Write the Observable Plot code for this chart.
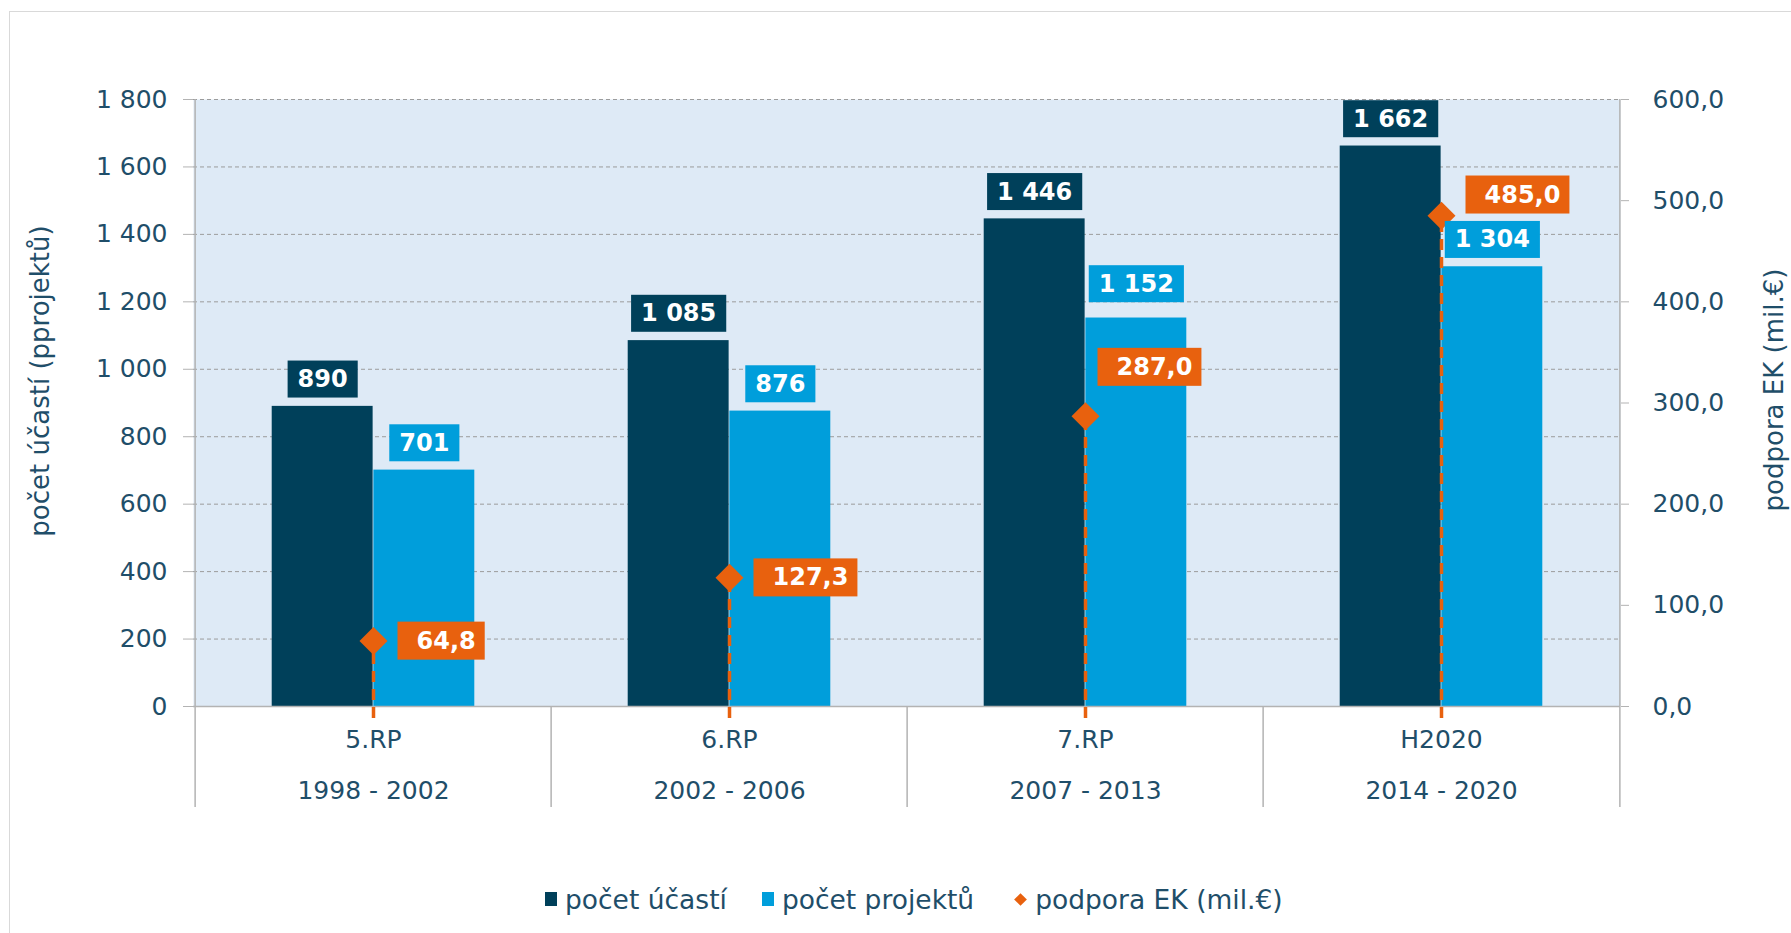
<!DOCTYPE html>
<html>
<head>
<meta charset="utf-8">
<script src="https://cdn.jsdelivr.net/npm/d3@7"></script>
<script src="https://cdn.jsdelivr.net/npm/@observablehq/plot@0.6"></script>
<style>
  html, body { margin: 0; padding: 0; background: #ffffff; }
  body { font-family: "DejaVu Sans", Verdana, sans-serif; }
  #wrap { position: relative; width: 1791px; height: 933px; overflow: hidden; }
  #border { position: absolute; left: 9px; top: 11px; width: 1800px; height: 940px;
            border-top: 1.5px solid #d9d9d9; border-left: 1.5px solid #d9d9d9; pointer-events: none; }
  #chart { position: relative; }
  #legend { display: flex; align-items: center; margin-left: 545px; margin-top: 34px; height: 30px;
            font-size: 26.5px; color: #1f4e69; white-space: nowrap; }
  .item { display: inline-flex; align-items: center; }
  .sq { display: inline-block; width: 12px; height: 14px; margin-right: 8px; }
  .dm { display: inline-block; width: 9px; height: 9px; transform: rotate(45deg); margin: 0 10px 0 3px; }
</style>
</head>
<body>
<div id="wrap">
  <div id="border"></div>
  <div id="chart"></div>
  <div id="legend"></div>
</div>
<script>
// ---- data ----
const periods = ["5.RP", "6.RP", "7.RP", "H2020"];
const years = ["1998 - 2002", "2002 - 2006", "2007 - 2013", "2014 - 2020"];
const pocetUcasti = [890, 1085, 1446, 1662];
const pocetProjektu = [701, 876, 1152, 1304];
const podporaEK = [64.8, 127.3, 287.0, 485.0];
const leftTicks = [0, 200, 400, 600, 800, 1000, 1200, 1400, 1600, 1800];
const rightTicks = [0, 100, 200, 300, 400, 500, 600];
const seriesNames = ["počet účastí", "počet projektů", "podpora EK (mil.€)"];
const leftTitle = "počet účastí (pprojektů)";
const rightTitle = "podpora EK (mil.€)";

// ---- style ----
const C_DARK = "#00405a", C_LIGHT = "#009edb", C_ORANGE = "#e8610e";
const C_BG = "#deeaf6", C_TEXT = "#1f4e69", C_AXIS = "#b3b3b3", C_GRID = "#9c9c9c";
const W = 1791, H = 850, mT = 99, mB = 144, mL = 193, mR = 171;
const bw = (W - mL - mR) / periods.length;
const plotH = H - mT - mB;
const barW = bw * 0.285;
const ratio = 1800 / 600; // secondary axis mapping
// manual label nudges (layout only)
const ekLabelShift = {"7.RP": {dx: -12, dy: -49}, "H2020": {dx: 0, dy: -21}};
const lightLabelShift = {"7.RP": -7};

const rows = periods.map((p, i) => ({period: p, years: years[i], ucasti: pocetUcasti[i], projekty: pocetProjektu[i], ek: podporaEK[i]}));
const fmtInt = d => d3.format(",")(d).replace(/,/g, " ");
const fmtDec = d => d.toFixed(1).replace(".", ",");

const marks = [
  Plot.frame({fill: C_BG, stroke: null}),
  Plot.gridY(leftTicks.filter(d => d > 0), {stroke: C_GRID, strokeOpacity: 1, strokeDasharray: "4,3", strokeWidth: 1}),
  Plot.barY(rows, {x: "period", y: "ucasti", fill: C_DARK, insetLeft: bw / 2 - barW, insetRight: bw / 2}),
  Plot.barY(rows, {x: "period", y: "projekty", fill: C_LIGHT, insetLeft: bw / 2, insetRight: bw / 2 - barW}),
  Plot.ruleY([0], {stroke: C_AXIS, strokeWidth: 1.5}),
  // left & right axis lines (extended into the category area)
  Plot.ruleX([periods[0]], {x: d => d, dx: -bw / 2, stroke: C_AXIS, strokeWidth: 1.5, insetBottom: -101}),
  Plot.ruleX([periods[periods.length - 1]], {x: d => d, dx: bw / 2, stroke: C_AXIS, strokeWidth: 1.5, insetBottom: -101}),
  // category dividers
  Plot.ruleX(periods.slice(1), {x: d => d, dx: -bw / 2, stroke: C_AXIS, strokeWidth: 1.5, insetTop: plotH, insetBottom: -101}),
  Plot.axisY(leftTicks, {anchor: "left", tickFormat: fmtInt, tickSize: 10, tickPadding: 16, fontSize: 25,
    stroke: C_AXIS, fill: C_TEXT, label: null}),
  Plot.axisY(rightTicks.map(d => d * ratio), {anchor: "right", tickFormat: d => fmtDec(d / ratio), tickSize: 8, tickPadding: 24,
    fontSize: 25, stroke: C_AXIS, fill: C_TEXT, label: null}),
  // category labels
  Plot.text(rows, {x: "period", text: "period", frameAnchor: "bottom", dy: 41, fontSize: 25, fill: C_TEXT}),
  Plot.text(rows, {x: "period", text: "years", frameAnchor: "bottom", dy: 92, fontSize: 25, fill: C_TEXT}),
  // axis titles
  Plot.text([leftTitle], {frameAnchor: "left", textAnchor: "middle", dx: -153, dy: -22, rotate: -90, fontSize: 26, fill: C_TEXT}),
  Plot.text([rightTitle], {frameAnchor: "right", textAnchor: "middle", dx: 154, dy: -13, rotate: -90, fontSize: 26, fill: C_TEXT}),
  // EK line + diamonds
  Plot.ruleX(rows, {x: "period", y1: 0, y2: d => d.ek * ratio, stroke: C_ORANGE, strokeWidth: 3.5, strokeDasharray: "11,7", insetTop: 12}),
  Plot.dot(rows, {x: "period", y: d => d.ek * ratio, symbol: "diamond2", r: 12.6, fill: C_ORANGE, stroke: null}),
  // bar labels
  Plot.text(rows, {x: "period", y: "ucasti", text: d => fmtInt(d.ucasti), dx: -barW / 2, dy: -27, fill: "white",
    fontWeight: "bold", fontSize: 24, ariaDescription: "lbl-dark"}),
  ...rows.map(r => Plot.text([r], {x: "period", y: "projekty", text: d => fmtInt(d.projekty), dx: barW / 2,
    dy: -27 + (lightLabelShift[r.period] || 0), fill: "white", fontWeight: "bold", fontSize: 24, ariaDescription: "lbl-light"})),
  ...rows.map(r => {
    const s = ekLabelShift[r.period] || {dx: 0, dy: 0};
    return Plot.text([r], {x: "period", y: d => d.ek * ratio, text: d => fmtDec(d.ek), dx: 43 + s.dx, dy: s.dy,
      textAnchor: "start", fill: "white", fontWeight: "bold", fontSize: 24, ariaDescription: "lbl-ek"});
  })
];

const svg = Plot.plot({
  width: W, height: H,
  marginTop: mT, marginBottom: mB, marginLeft: mL, marginRight: mR,
  style: {fontFamily: "'DejaVu Sans', Verdana, sans-serif", background: "transparent", overflow: "visible"},
  x: {domain: periods, padding: 0, axis: null},
  y: {domain: [0, 1800]},
  marks
});
document.getElementById("chart").appendChild(svg);

// boxes behind data labels
function addBoxes(desc, fill, padL, padR, h) {
  svg.querySelectorAll(`g[aria-description="${desc}"] text`).forEach(t => {
    const bb = t.getBBox();
    const cy = bb.y + bb.height / 2;
    const rect = document.createElementNS("http://www.w3.org/2000/svg", "rect");
    rect.setAttribute("x", bb.x - padL);
    rect.setAttribute("y", cy - h / 2);
    rect.setAttribute("width", bb.width + padL + padR);
    rect.setAttribute("height", h);
    rect.setAttribute("fill", fill);
    const tr = t.getAttribute("transform");
    if (tr) rect.setAttribute("transform", tr);
    t.parentNode.insertBefore(rect, t);
  });
}
addBoxes("lbl-dark", C_DARK, 10, 10, 37);
addBoxes("lbl-light", C_LIGHT, 10, 10, 37);
addBoxes("lbl-ek", C_ORANGE, 19, 9, 38);

// legend
const legend = document.getElementById("legend");
const legendItems = [
  {name: seriesNames[0], color: C_DARK, kind: "sq", gap: 35},
  {name: seriesNames[1], color: C_LIGHT, kind: "sq", gap: 39},
  {name: seriesNames[2], color: C_ORANGE, kind: "dm", gap: 0}
];
legendItems.forEach(it => {
  const s = document.createElement("span");
  s.className = "item";
  s.style.marginRight = it.gap + "px";
  const m = document.createElement("span");
  m.className = it.kind;
  m.style.background = it.color;
  s.appendChild(m);
  const t = document.createElement("span");
  t.textContent = it.name;
  s.appendChild(t);
  legend.appendChild(s);
});
</script>
</body>
</html>
